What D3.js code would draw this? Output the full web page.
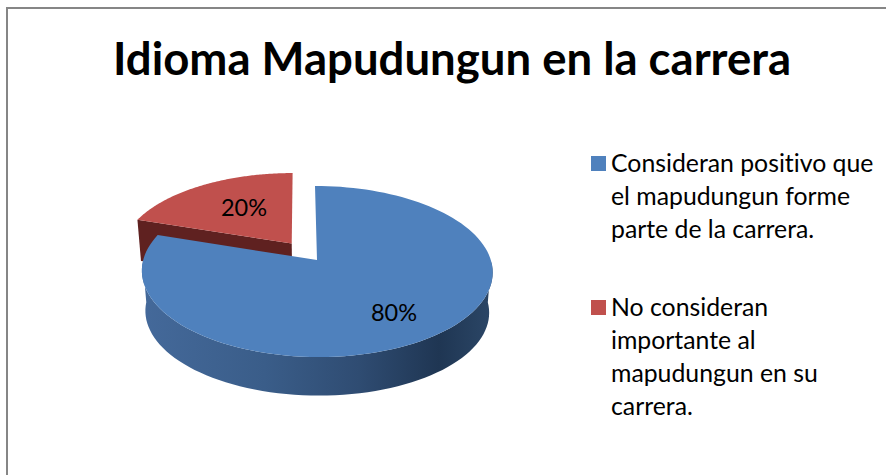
<!DOCTYPE html>
<html>
<head>
<meta charset="utf-8">
<script src="https://cdn.jsdelivr.net/npm/d3@7"></script>
<style>
	html, body { margin: 0; background: #fff; }
	svg { display: block; }
	text { font-family: Lato, "Open Sans", sans-serif; fill: #000; font-variant-ligatures: none; }
</style>
</head>
<body>
<svg width="886" height="475"></svg>
<script>
const chartTitle = "Idioma Mapudungun en la carrera";
const categories = ["positivo", "no importante"];
const values = [80, 20];
const valueLabels = ["80%", "20%"];
const legendLines = [
	["Consideran positivo que", "el mapudungun forme", "parte de la carrera."],
	["No consideran", "importante al", "mapudungun en su", "carrera."]
];

const svg = d3.select("svg");
const width = +svg.attr("width");
const height = +svg.attr("height");

const topColor = d3.scaleOrdinal().domain(categories).range(["#4f81bd", "#c0504d"]);
const wallColor = d3.scaleOrdinal().domain(categories).range(["#34547c", "#5f2120"]);
const explode = d3.scaleOrdinal().domain(categories).range([0, 0.25]);

// the pie lies flat and is seen in perspective, the far side is smaller
const cam = { cx: 317, cy: 260, a: 173.8, b: 84, p: 0.1345, lean: 2, depth: 40.5, shrink: 0.98 };

const project = (u, v, low) => {
	const w = 1 + cam.p * v;
	const s = low ? cam.shrink : 1;
	return [
		cam.cx + s * cam.a * u / w - cam.lean * v,
		cam.cy + (low ? cam.depth : 0) - s * cam.b * v / w
	];
};

const slices = d3.pie().sort(null).value(d => d.value)(
	categories.map((c, i) => ({ name: c, value: values[i], label: valueLabels[i] }))
);

// unit circle coordinates of a slice, clockwise from 12 o'clock
const offset = d => {
	const mid = (d.startAngle + d.endAngle) / 2;
	const e = explode(d.data.name);
	return [e * Math.sin(mid), e * Math.cos(mid)];
};
const rim = (d, low) => {
	const [ox, oy] = offset(d);
	const n = 120;
	return d3.range(n + 1).map(i => {
		const t = d.startAngle + (d.endAngle - d.startAngle) * i / n;
		return project(ox + Math.sin(t), oy + Math.cos(t), low);
	});
};
const apex = (d, low) => {
	const [ox, oy] = offset(d);
	return project(ox, oy, low);
};
const line = d3.line();

const defs = svg.append("defs");
const grad = defs.append("linearGradient")
	.attr("id", "blueWall")
	.attr("gradientUnits", "userSpaceOnUse")
	.attr("x1", cam.cx - cam.a).attr("x2", cam.cx + cam.a)
	.attr("y1", 0).attr("y2", 0);
[[0, "#44699a"], [0.35, "#3a5d89"], [0.62, "#2f4c72"], [0.85, "#1f3653"], [1, "#2b4666"]].forEach(s => {
	grad.append("stop").attr("offset", s[0]).attr("stop-color", s[1]);
});

// frame, open at the right and the bottom like the source crop
svg.append("path")
	.attr("d", line([[7, height], [7, 8], [width, 8]]))
	.attr("fill", "none")
	.attr("stroke", "#868686")
	.attr("stroke-width", 2);

// red goes first, the blue slice covers it
const order = [slices[1], slices[0]];
order.forEach(d => {
	const g = svg.append("g");
	const isBlue = d.data.name === categories[0];
	const up = rim(d, false);
	const down = rim(d, true);
	if (isBlue) {
		// just the near half of the rim, the far half is hidden anyway
		const near = up.map((p, i) => i).filter(i => up[i][1] >= cam.cy);
		const upNear = near.map(i => up[i]);
		const downNear = near.map(i => down[i]);
		g.append("path")
			.attr("d", line(upNear.concat(downNear.reverse())) + "Z")
			.attr("fill", "url(#blueWall)");
	} else {
		// only the cut side of the red slice shows
		g.append("path")
			.attr("d", line([up[0], apex(d, false), apex(d, true), down[0]]) + "Z")
			.attr("fill", wallColor(d.data.name));
	}
	g.append("path")
		.attr("d", line([apex(d, false)].concat(up)) + "Z")
		.attr("fill", topColor(d.data.name));
});

svg.append("text")
	.attr("x", 452)
	.attr("y", 75)
	.attr("text-anchor", "middle")
	.attr("font-size", 45.5)
	.attr("font-weight", 700)
	.text(chartTitle);

const labelPos = [[394, 321], [244, 216]];
svg.selectAll(".val").data(slices).enter().append("text")
	.attr("class", "val")
	.attr("x", (d, i) => labelPos[i][0])
	.attr("y", (d, i) => labelPos[i][1])
	.attr("text-anchor", "middle")
	.attr("font-size", 23.5)
	.text(d => d.data.label);

const legendTop = [172, 316];
legendLines.forEach((lines, i) => {
	svg.append("rect")
		.attr("x", 591)
		.attr("y", legendTop[i] - 16)
		.attr("width", 15)
		.attr("height", 15)
		.attr("fill", topColor(categories[i]));
	svg.append("text")
		.attr("font-size", 24.8)
		.selectAll("tspan").data(lines).enter().append("tspan")
		.attr("x", 611)
		.attr("y", (d, j) => legendTop[i] + j * 33)
		.text(d => d);
});
</script>
</body>
</html>
